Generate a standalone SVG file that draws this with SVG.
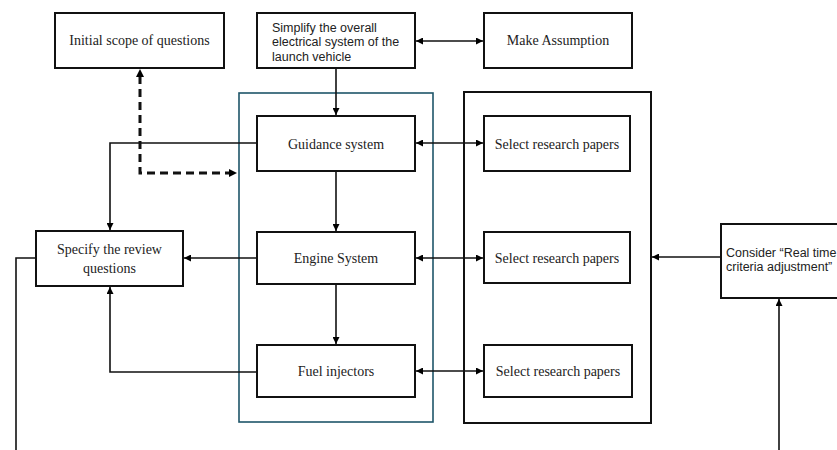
<svg xmlns="http://www.w3.org/2000/svg" width="837" height="450" viewBox="0 0 837 450">
<defs>
<marker id="ah" viewBox="0 0 10 10" refX="10" refY="5" markerWidth="7" markerHeight="7" markerUnits="userSpaceOnUse" orient="auto-start-reverse"><path d="M0,0 L10,5 L0,10 z" fill="#000"/></marker>
<marker id="ahd" viewBox="0 0 10 10" refX="10" refY="5" markerWidth="4" markerHeight="4" orient="auto-start-reverse"><path d="M0,0 L10,5 L0,10 z" fill="#000"/></marker>
<style>
.box{fill:#fff;stroke:#111;stroke-width:2}
.grp{fill:none;stroke:#111;stroke-width:2}
.teal{fill:none;stroke:#1f5569;stroke-width:1.6}
.ser{font-family:"Liberation Serif","Times New Roman",serif;font-size:14px;fill:#222;text-anchor:middle}
.san{font-family:"Liberation Sans",Arial,sans-serif;font-size:12.5px;fill:#222}
.ln{fill:none;stroke:#111;stroke-width:1.6}
.arr{marker-end:url(#ah)}
.both{marker-start:url(#ah);marker-end:url(#ah)}
.dash{fill:none;stroke:#111;stroke-width:3;stroke-dasharray:8 5}
</style>
</defs>
<g id="containers">
<rect class="teal" x="239" y="93" width="194" height="329"/>
<rect class="grp" x="464" y="92" width="187" height="331"/>
</g>
<g id="connectors">
<line class="ln both" x1="416" y1="41" x2="483" y2="41"/>
<line class="ln arr" x1="336" y1="69" x2="336" y2="115"/>
<line class="ln both" x1="416" y1="143" x2="483" y2="143"/>
<line class="ln both" x1="416" y1="258" x2="483" y2="258"/>
<line class="ln both" x1="416" y1="371" x2="483" y2="371"/>
<line class="ln arr" x1="336" y1="172" x2="336" y2="231"/>
<line class="ln arr" x1="336" y1="285" x2="336" y2="344"/>
<polyline class="ln arr" points="257,143 110,143 110,230"/>
<line class="ln arr" x1="257" y1="258" x2="184" y2="258"/>
<polyline class="ln arr" points="257,372 110,372 110,287"/>
<polyline class="ln" points="36,258 16,258 16,450"/>
<line class="ln arr" x1="721" y1="257" x2="652" y2="257"/>
<line class="ln arr" x1="779" y1="450" x2="779" y2="299"/>
<path class="dash" d="M140,76 L140,173 L230,173"/>
<path d="M140,69 L136,77 L144,77 z" fill="#000"/>
<path d="M237,173 L229,169 L229,177 z" fill="#000"/>
</g>
<g id="initial-scope">
<rect class="box" x="55" y="13" width="169" height="55"/>
<text class="ser" x="139.5" y="45">Initial scope of questions</text>
</g>
<g id="simplify">
<rect class="box" x="257" y="13" width="158" height="55"/>
<text class="san" x="272" y="31.5">Simplify the overall</text>
<text class="san" x="272" y="46">electrical system of the</text>
<text class="san" x="272" y="60.5">launch vehicle</text>
</g>
<g id="make-assumption">
<rect class="box" x="484" y="13" width="148" height="55"/>
<text class="ser" x="558" y="45">Make Assumption</text>
</g>
<g id="guidance">
<rect class="box" x="257" y="116" width="158" height="55"/>
<text class="ser" x="336" y="148.5">Guidance system</text>
</g>
<g id="engine">
<rect class="box" x="257" y="232" width="158" height="52"/>
<text class="ser" x="336" y="263">Engine System</text>
</g>
<g id="fuel">
<rect class="box" x="257" y="345" width="158" height="52"/>
<text class="ser" x="336" y="376">Fuel injectors</text>
</g>
<g id="specify">
<rect class="box" x="36" y="231" width="147" height="55"/>
<text class="ser" x="109.5" y="254">Specify the review</text>
<text class="ser" x="109.5" y="273">questions</text>
</g>
<g id="select-1">
<rect class="box" x="484" y="116" width="146" height="55"/>
<text class="ser" x="557" y="148.5">Select research papers</text>
</g>
<g id="select-2">
<rect class="box" x="484" y="232" width="146" height="51"/>
<text class="ser" x="557" y="263">Select research papers</text>
</g>
<g id="select-3">
<rect class="box" x="484" y="345" width="148" height="52"/>
<text class="ser" x="558" y="376">Select research papers</text>
</g>
<g id="consider">
<rect class="box" x="721" y="224" width="130" height="74"/>
<text class="san" x="726" y="257">Consider “Real time</text>
<text class="san" x="726" y="271">criteria adjustment”</text>
</g>
</svg>
